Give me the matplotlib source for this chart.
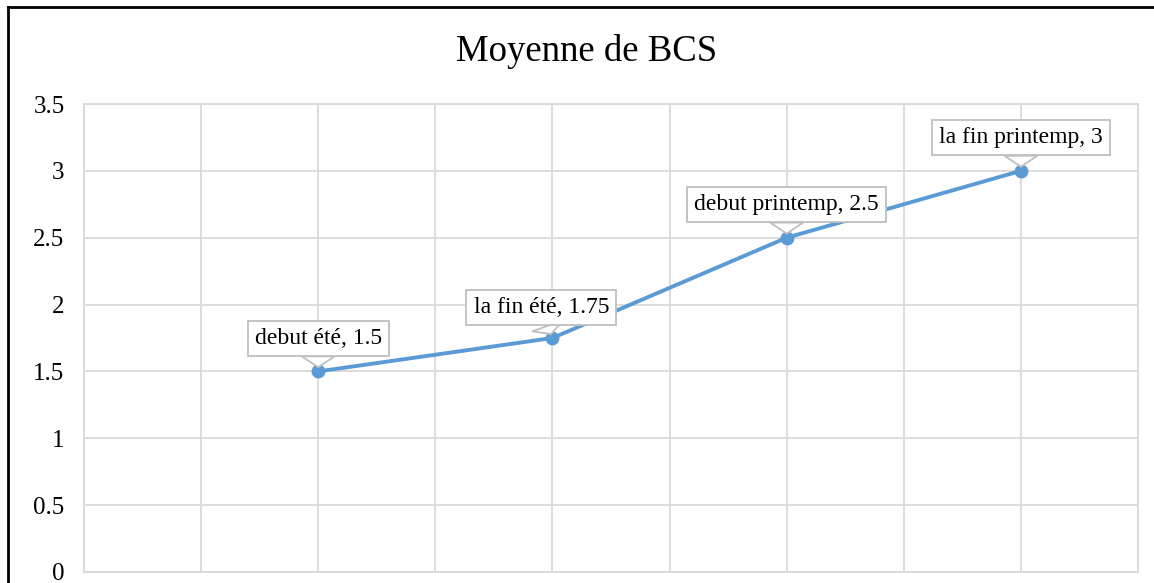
import matplotlib
matplotlib.use('Agg')
import matplotlib.pyplot as plt
from matplotlib.lines import Line2D

plt.rcParams['font.family'] = ['Liberation Serif', 'DejaVu Serif']

saisons = ['debut été', 'la fin été', 'debut printemp', 'la fin printemp']
x_pos = [1, 2, 3, 4]
bcs = [1.5, 1.75, 2.5, 3]
# offsets of the data label boxes (points)
decalages = [(0, 24), (-8, 22), (0, 24), (0, 24)]

fig = plt.figure(figsize=(11.54, 5.83), dpi=100)
ax = fig.add_axes([84/1154, 11/583, 1054/1154, 468/583])

ax.plot(x_pos, bcs, color='#5B9BD5', lw=2.8, marker='o', ms=9, zorder=3,
        solid_capstyle='round')

for s, xv, yv, d in zip(saisons, x_pos, bcs, decalages):
    ax.annotate(f'{s}, {yv:g}', xy=(xv, yv), xytext=d, textcoords='offset points',
                ha='center', va='center', fontsize=17, zorder=4,
                bbox=dict(boxstyle='square,pad=0.3', fc='white', ec='#bfbfbf', lw=1.3),
                arrowprops=dict(arrowstyle='wedge,tail_width=1.4,shrink_factor=0.5',
                                fc='white', ec='#bfbfbf', lw=1.3, shrinkA=0, shrinkB=3))

ax.set_xlim(0, 4.5)
ax.set_ylim(0, 3.5)
ax.set_xticks([i * 0.5 for i in range(10)])
ax.set_yticks([i * 0.5 for i in range(8)])
ax.set_xticklabels([])
ax.set_yticklabels(['0', '0.5', '1', '1.5', '2', '2.5', '3', '3.5'])
ax.tick_params(length=0, labelsize=18, pad=14)
ax.grid(True, color='#d9d9d9', lw=1.3)
ax.set_axisbelow(True)
for sp in ax.spines.values():
    sp.set_color('#d9d9d9')
    sp.set_linewidth(1.3)

fig.text(0.508, 0.911, 'Moyenne de BCS', ha='center', va='center', fontsize=26.5)

# black frame of the chart (only top and left visible)
fig.add_artist(Line2D([8/1154, 8/1154], [0, 1 - 7/583], color='black', lw=2))
fig.add_artist(Line2D([8/1154, 1], [1 - 7/583, 1 - 7/583], color='black', lw=2))

fig.savefig('out.png', dpi=100)
